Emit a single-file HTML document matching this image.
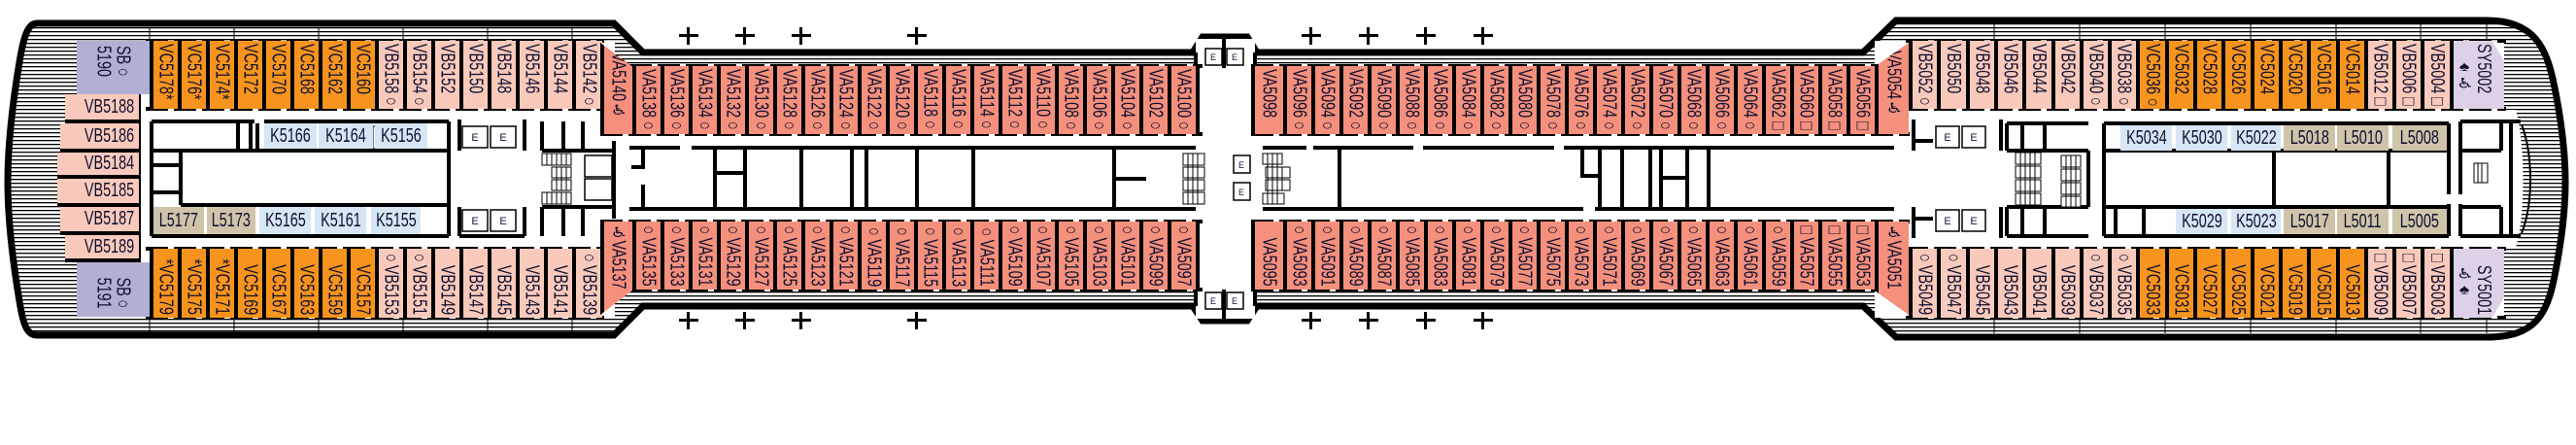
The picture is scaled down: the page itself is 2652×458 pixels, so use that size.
<!DOCTYPE html>
<html><head><meta charset="utf-8">
<style>
html,body{margin:0;padding:0;background:#fff}
body{width:2652px;height:458px;position:relative;overflow:hidden;font-family:"Liberation Sans","DejaVu Sans",sans-serif}
svg{position:absolute;left:0;top:0}
.c{position:absolute;box-sizing:border-box;border-left:4px solid #000;display:flex;justify-content:center;overflow:hidden;width:29px}
.c span{writing-mode:vertical-rl;font-size:20px;line-height:20px;white-space:nowrap;color:#101030;font-family:"Liberation Sans","DejaVu Sans",sans-serif}
.T{align-items:flex-start}.B{align-items:flex-end}
.T span{transform:scaleY(.72);transform-origin:top;margin-top:3px}
.B span{transform:scaleY(.72);transform-origin:bottom;margin-bottom:3px}
.r1{top:42px;height:70px}.r2{top:256px;height:71px}.n1{top:68px;height:70px}.n2{top:228px;height:70px}
.o{background:#f7941d}.p{background:#f9cabb}.a{background:#f4907c}.s{background:#b2afd4}.y{background:#ddd0e7}
.er{border-right:4px solid #000}
.h{position:absolute;box-sizing:border-box;display:flex;align-items:center;justify-content:flex-end;padding-right:5px;background:#f9cabb;border-bottom:4px solid #000;color:#101030}
.h span,.k span{font-size:20px;transform:scaleX(.72);white-space:nowrap}
.h span{transform-origin:right}
.k{position:absolute;box-sizing:border-box;display:flex;align-items:center;justify-content:center;color:#101030;height:26px}
.kb{background:#d6e6f5}.lt{background:#cfc3a9}
.bar{position:absolute;height:4px;background:repeating-linear-gradient(90deg,#000 0 23px,transparent 23px 29px)}
.pl{position:absolute;width:20px;height:18px}
.pl:before{content:"";position:absolute;left:0;top:7px;width:20px;height:3px;background:#000}
.pl:after{content:"";position:absolute;left:8px;top:0;width:3px;height:18px;background:#000}
</style></head><body>
<svg width="2652" height="458" viewBox="0 0 2652 458">
<defs>
<pattern id="ln" width="8" height="4" patternUnits="userSpaceOnUse"><rect width="8" height="4" fill="#fff"/><rect y="0" width="8" height="1.3" fill="#000"/></pattern>
</defs>
<path d="M38,24 L632,24 L662,54 L1228,54 L1238,38 L1284,38 L1294,54 L1918,54 L1952,21 L2560,21 C2610,21 2622,50 2630,90 C2640,140 2641,170 2641,187 C2641,204 2640,234 2630,284 C2622,324 2610,347 2560,347 L1952,347 L1918,315 L1294,315 L1284,330 L1238,330 L1228,315 L662,315 L632,345 L38,345 C28,345 24,335 20,310 C10,250 8,210 8,187 C8,164 10,124 20,64 C24,40 28,24 38,24 Z" fill="url(#ln)" stroke="#000" stroke-width="7"/>
<g stroke="#000" stroke-width="1">
<line x1="154" y1="28" x2="154" y2="42"/><line x1="241" y1="28" x2="241" y2="42"/><line x1="328" y1="28" x2="328" y2="42"/><line x1="415" y1="28" x2="415" y2="42"/><line x1="502" y1="28" x2="502" y2="42"/><line x1="589" y1="28" x2="589" y2="42"/>
<line x1="154" y1="327" x2="154" y2="342"/><line x1="241" y1="327" x2="241" y2="342"/><line x1="328" y1="327" x2="328" y2="342"/><line x1="415" y1="327" x2="415" y2="342"/><line x1="502" y1="327" x2="502" y2="342"/><line x1="589" y1="327" x2="589" y2="342"/>
<line x1="2053" y1="25" x2="2053" y2="42"/><line x1="2141" y1="25" x2="2141" y2="42"/><line x1="2229" y1="25" x2="2229" y2="42"/><line x1="2317" y1="25" x2="2317" y2="42"/><line x1="2405" y1="25" x2="2405" y2="42"/><line x1="2492" y1="25" x2="2492" y2="42"/><line x1="2560" y1="25" x2="2560" y2="42"/>
<line x1="2053" y1="327" x2="2053" y2="343"/><line x1="2141" y1="327" x2="2141" y2="343"/><line x1="2229" y1="327" x2="2229" y2="343"/><line x1="2317" y1="327" x2="2317" y2="343"/><line x1="2405" y1="327" x2="2405" y2="343"/><line x1="2492" y1="327" x2="2492" y2="343"/><line x1="2560" y1="327" x2="2560" y2="343"/>
</g>
<rect x="143" y="42" width="490" height="285" fill="#fff"/>
<rect x="618" y="68" width="1315" height="230" fill="#fff"/>
<rect x="1231" y="40" width="61" height="288" fill="#fff"/>
<rect x="1930" y="42" width="648" height="285" fill="#fff"/>
<path d="M2578,113 L2590,113 C2600,150 2600,220 2590,255 L2578,255 Z" fill="#fff"/>
<rect x="620" y="112" width="30" height="116" fill="#fff"/>
<rect x="1930" y="112" width="36" height="116" fill="#fff"/>
<rect x="140" y="95" width="5" height="177" fill="#000"/>
<g stroke="#000" stroke-width="4" fill="none">
<path d="M156,125 H262 M272,125 H462 M156,125 V243 M156,243 H462 M462,125 V243"/>
<path d="M156,155 H462 M186,155 V211 M186,211 H462 M156,170 H186 M156,198 H186"/>
<path d="M245,127 V153 M258,127 V153 M265,127 V153"/>
<path d="M473,123 V155 M540,123 V155 M473,213 V243 M540,213 V243 M473,243 H540"/>
<path d="M558,125 V155 M580,125 V155 M600,125 V155 M558,155 H632 M558,213 H632 M558,213 V243 M580,213 V243 M600,213 V243 M632,145 V225"/>
<path d="M648,152 H700 M712,152 H1231 M648,215 H1231 M662,152 V172 M662,190 V215 M736,152 V215 M736,178 H767 M767,152 V215 M825,152 V215 M877,152 V215 M892,152 V215 M944,152 V215 M1002,152 V215 M1147,152 V215 M1147,184 H1180"/>
<path d="M650,152 H662 V172 H650"/>
<path d="M1300,152 H1345 M1352,152 H1455 M1465,152 H1600 M1610,152 H1950 M1300,215 H1630 M1642,215 H1950 M1379,152 V215 M1629,152 V181 H1647 M1647,152 V215 M1670,152 V215 M1699,152 V215 M1710,152 V215 M1710,183 H1737 M1737,152 V215 M1759,152 V215"/>
<path d="M1970,123 V155 M2060,123 V155 M1970,213 V245 M2060,213 V245 M1970,145 H1990 M1970,225 H1990"/>
<path d="M2066,127 H2150 M2066,127 V155 M2082,127 V155 M2105,127 V155 M2066,155 H2150 M2066,213 H2150 M2066,213 V243 M2082,213 V243 M2105,213 V243 M2066,243 H2150 M2150,155 V213"/>
<path d="M2166,127 V243 M2166,127 H2521 M2166,155 H2521 M2166,213 H2521 M2166,243 H2521 M2521,127 V200 M2521,210 V243 M2341,155 V213 M2459,155 V213 M2178,213 V243 M2207,213 V243"/>
<path d="M2533,125 V200 M2533,210 V243 M2533,155 H2575 M2533,213 H2575 M2575,125 V155 M2575,213 V243 M2585,125 V243 M2533,125 H2595 M2533,243 H2595"/>
</g>
<path d="M2596,128 C2608,160 2608,210 2596,240" stroke="#000" stroke-width="2" fill="none"/>
<g stroke="#000" stroke-width="1.5" fill="#fff">
<rect x="476" y="130" width="26" height="22"/><rect x="505" y="130" width="26" height="22"/>
<rect x="476" y="216" width="26" height="22"/><rect x="505" y="216" width="26" height="22"/>
<rect x="1993" y="130" width="24" height="22"/><rect x="2020" y="130" width="24" height="22"/>
<rect x="1993" y="216" width="24" height="22"/><rect x="2020" y="216" width="24" height="22"/>
<rect x="1241" y="50" width="17" height="17"/><rect x="1263" y="50" width="17" height="17"/>
<rect x="1241" y="301" width="17" height="17"/><rect x="1263" y="301" width="17" height="17"/>
<rect x="1270" y="160" width="17" height="18"/><rect x="1270" y="188" width="17" height="18"/>
<rect x="602" y="160" width="28" height="22"/><rect x="602" y="184" width="28" height="22"/>
</g>
<g fill="#15163a" font-size="11" font-family="Liberation Sans" text-anchor="middle">
<text x="489" y="145">E</text><text x="518" y="145">E</text><text x="489" y="231">E</text><text x="518" y="231">E</text>
<text x="2005" y="145">E</text><text x="2032" y="145">E</text><text x="2005" y="231">E</text><text x="2032" y="231">E</text>
<text x="1249" y="62" font-size="9">E</text><text x="1271" y="62" font-size="9">E</text>
<text x="1249" y="313" font-size="9">E</text><text x="1271" y="313" font-size="9">E</text>
<text x="1278" y="173" font-size="9">E</text><text x="1278" y="201" font-size="9">E</text>
</g>
<path d="M1231,54 V68 M1292,54 V68 M1231,300 V315 M1292,300 V315 M1260,40 V70 M1260,298 V328" stroke="#000" stroke-width="4"/>
<g stroke="#000" stroke-width="1" fill="#fff">
<rect x="558" y="158" width="30" height="12"/><rect x="568" y="172" width="20" height="11"/><rect x="568" y="185" width="20" height="11"/><rect x="558" y="198" width="30" height="12"/>
<rect x="1218" y="158" width="22" height="12"/><rect x="1218" y="172" width="22" height="11"/><rect x="1218" y="185" width="22" height="11"/><rect x="1218" y="198" width="22" height="12"/>
<rect x="1300" y="158" width="20" height="11"/><rect x="1303" y="172" width="25" height="11"/><rect x="1303" y="185" width="25" height="11"/><rect x="1300" y="199" width="22" height="11"/>
<rect x="2075" y="157" width="26" height="12"/><rect x="2075" y="171" width="26" height="12"/><rect x="2075" y="185" width="26" height="12"/><rect x="2075" y="199" width="26" height="12"/>
<rect x="2122" y="160" width="20" height="12"/><rect x="2122" y="174" width="20" height="12"/><rect x="2122" y="188" width="20" height="12"/><rect x="2122" y="202" width="20" height="11"/>
<rect x="2547" y="168" width="14" height="20"/>
<rect x="376" y="130" width="14" height="23"/>
</g>
<g stroke="#000" stroke-width="1">
<path d="M563,158V170M568,158V170M573,158V170M578,158V170M583,158V170M573,172V196M578,172V196M583,172V196M563,198V210M568,198V210M573,198V210M578,198V210M583,198V210"/>
<path d="M1223,158V210M1228,158V210M1233,158V210M1305,158V210M1310,158V210M1315,158V210M1320,172V196"/>
<path d="M2080,157V211M2085,157V211M2090,157V211M2095,157V211M2127,160V213M2132,160V213M2137,160V213M2551,168V188M2555,168V188M380,130V153M384,130V153"/>
</g>
</svg>

<div class="bar" style="left:150px;top:40px;width:472px"></div>
<div class="bar" style="left:150px;top:110px;width:472px"></div>
<div class="bar" style="left:150px;top:254px;width:472px"></div>
<div class="bar" style="left:150px;top:325px;width:472px"></div>
<div class="bar" style="left:648px;top:66px;width:590px"></div>
<div class="bar" style="left:618px;top:136px;width:620px"></div>
<div class="bar" style="left:618px;top:226px;width:620px"></div>
<div class="bar" style="left:648px;top:296px;width:590px"></div>
<div class="bar" style="left:1288px;top:66px;width:645px"></div>
<div class="bar" style="left:1288px;top:136px;width:678px"></div>
<div class="bar" style="left:1288px;top:226px;width:678px"></div>
<div class="bar" style="left:1288px;top:296px;width:645px"></div>
<div class="bar" style="left:1962px;top:40px;width:618px"></div>
<div class="bar" style="left:1962px;top:110px;width:618px"></div>
<div class="bar" style="left:1962px;top:254px;width:618px"></div>
<div class="bar" style="left:1962px;top:325px;width:618px"></div>

<div class="c s T" style="left:79px;top:42px;height:55px;width:75px;border-left:none;align-items:center"><span style="line-height:20px">SB○<br>5190</span></div>
<div class="c s B" style="left:79px;top:270px;height:56px;width:75px;border-left:none;align-items:center"><span style="line-height:20px">SB○<br>5191</span></div>

<div class="h" style="left:67px;top:97px;width:76px;height:30px"><span>VB5188</span></div>
<div class="h" style="left:62px;top:127px;width:81px;height:30px"><span>VB5186</span></div>
<div class="h" style="left:59px;top:157px;width:84px;height:27px"><span>VB5184</span></div>
<div class="h" style="left:59px;top:184px;width:84px;height:29px"><span>VB5185</span></div>
<div class="h" style="left:62px;top:213px;width:81px;height:29px"><span>VB5187</span></div>
<div class="h" style="left:67px;top:242px;width:76px;height:28px;border-bottom:4px solid #000"><span>VB5189</span></div>

<div class="c o T r1" style="left:154px"><span>VC5178*</span></div>
<div class="c o T r1" style="left:183px"><span>VC5176*</span></div>
<div class="c o T r1" style="left:212px"><span>VC5174*</span></div>
<div class="c o T r1" style="left:241px"><span>VC5172</span></div>
<div class="c o T r1" style="left:270px"><span>VC5170</span></div>
<div class="c o T r1" style="left:299px"><span>VC5168</span></div>
<div class="c o T r1" style="left:328px"><span>VC5162</span></div>
<div class="c o T r1" style="left:357px"><span>VC5160</span></div>
<div class="c p T r1" style="left:386px"><span>VB5158○</span></div>
<div class="c p T r1" style="left:415px"><span>VB5154○</span></div>
<div class="c p T r1" style="left:444px"><span>VB5152</span></div>
<div class="c p T r1" style="left:473px"><span>VB5150</span></div>
<div class="c p T r1" style="left:502px"><span>VB5148</span></div>
<div class="c p T r1" style="left:531px"><span>VB5146</span></div>
<div class="c p T r1" style="left:560px"><span>VB5144</span></div>
<div class="c p T r1" style="left:589px;width:31px"><span>VB5142○</span></div>

<div class="c o B r2" style="left:154px"><span>*VC5179</span></div>
<div class="c o B r2" style="left:183px"><span>*VC5175</span></div>
<div class="c o B r2" style="left:212px"><span>*VC5171</span></div>
<div class="c o B r2" style="left:241px"><span>VC5169</span></div>
<div class="c o B r2" style="left:270px"><span>VC5167</span></div>
<div class="c o B r2" style="left:299px"><span>VC5163</span></div>
<div class="c o B r2" style="left:328px"><span>VC5159</span></div>
<div class="c o B r2" style="left:357px"><span>VC5157</span></div>
<div class="c p B r2" style="left:386px"><span>○VB5153</span></div>
<div class="c p B r2" style="left:415px"><span>○VB5151</span></div>
<div class="c p B r2" style="left:444px"><span>VB5149</span></div>
<div class="c p B r2" style="left:473px"><span>VB5147</span></div>
<div class="c p B r2" style="left:502px"><span>VB5145</span></div>
<div class="c p B r2" style="left:531px"><span>VB5143</span></div>
<div class="c p B r2" style="left:560px"><span>VB5141</span></div>
<div class="c p B r2" style="left:589px;width:31px"><span>○VB5139</span></div>

<div class="c a T" style="left:618px;top:44px;height:94px;width:33px;clip-path:polygon(0 0,100% 26%,100% 100%,0 100%)"><span style="margin-top:10px">VA5140♿</span></div>
<div class="c a T n1" style="left:651px"><span>VA5138○</span></div>
<div class="c a T n1" style="left:680px"><span>VA5136○</span></div>
<div class="c a T n1" style="left:709px"><span>VA5134○</span></div>
<div class="c a T n1" style="left:738px"><span>VA5132○</span></div>
<div class="c a T n1" style="left:767px"><span>VA5130○</span></div>
<div class="c a T n1" style="left:796px"><span>VA5128○</span></div>
<div class="c a T n1" style="left:825px"><span>VA5126○</span></div>
<div class="c a T n1" style="left:854px"><span>VA5124○</span></div>
<div class="c a T n1" style="left:883px"><span>VA5122○</span></div>
<div class="c a T n1" style="left:912px"><span>VA5120○</span></div>
<div class="c a T n1" style="left:941px"><span>VA5118○</span></div>
<div class="c a T n1" style="left:970px"><span>VA5116○</span></div>
<div class="c a T n1" style="left:999px"><span>VA5114○</span></div>
<div class="c a T n1" style="left:1028px"><span>VA5112○</span></div>
<div class="c a T n1" style="left:1057px"><span>VA5110○</span></div>
<div class="c a T n1" style="left:1086px"><span>VA5108○</span></div>
<div class="c a T n1" style="left:1115px"><span>VA5106○</span></div>
<div class="c a T n1" style="left:1144px"><span>VA5104○</span></div>
<div class="c a T n1" style="left:1173px"><span>VA5102○</span></div>
<div class="c a T n1 er" style="left:1202px;width:33px"><span>VA5100○</span></div>

<div class="c a T n1" style="left:1288px;width:33px"><span>VA5098</span></div>
<div class="c a T n1" style="left:1321px"><span>VA5096○</span></div>
<div class="c a T n1" style="left:1350px"><span>VA5094○</span></div>
<div class="c a T n1" style="left:1379px"><span>VA5092○</span></div>
<div class="c a T n1" style="left:1408px"><span>VA5090○</span></div>
<div class="c a T n1" style="left:1437px"><span>VA5088○</span></div>
<div class="c a T n1" style="left:1466px"><span>VA5086○</span></div>
<div class="c a T n1" style="left:1495px"><span>VA5084○</span></div>
<div class="c a T n1" style="left:1524px"><span>VA5082○</span></div>
<div class="c a T n1" style="left:1553px"><span>VA5080○</span></div>
<div class="c a T n1" style="left:1582px"><span>VA5078○</span></div>
<div class="c a T n1" style="left:1611px"><span>VA5076○</span></div>
<div class="c a T n1" style="left:1640px"><span>VA5074○</span></div>
<div class="c a T n1" style="left:1669px"><span>VA5072○</span></div>
<div class="c a T n1" style="left:1698px"><span>VA5070○</span></div>
<div class="c a T n1" style="left:1727px"><span>VA5068○</span></div>
<div class="c a T n1" style="left:1756px"><span>VA5066○</span></div>
<div class="c a T n1" style="left:1785px"><span>VA5064○</span></div>
<div class="c a T n1" style="left:1814px"><span>VA5062□</span></div>
<div class="c a T n1" style="left:1843px"><span>VA5060□</span></div>
<div class="c a T n1" style="left:1872px"><span>VA5058□</span></div>
<div class="c a T n1" style="left:1901px"><span>VA5056□</span></div>
<div class="c a T" style="left:1930px;top:44px;height:94px;width:35px;clip-path:polygon(0 26%,100% 0,100% 100%,0 100%)"><span style="margin-top:8px">VA5054♿</span></div>

<div class="c a B" style="left:618px;top:228px;height:96px;width:33px;clip-path:polygon(0 0,100% 0,100% 74%,0 100%)"><span style="margin-bottom:26px">♿VA5137</span></div>
<div class="c a B n2" style="left:651px"><span>○VA5135</span></div>
<div class="c a B n2" style="left:680px"><span>○VA5133</span></div>
<div class="c a B n2" style="left:709px"><span>○VA5131</span></div>
<div class="c a B n2" style="left:738px"><span>○VA5129</span></div>
<div class="c a B n2" style="left:767px"><span>○VA5127</span></div>
<div class="c a B n2" style="left:796px"><span>○VA5125</span></div>
<div class="c a B n2" style="left:825px"><span>○VA5123</span></div>
<div class="c a B n2" style="left:854px"><span>○VA5121</span></div>
<div class="c a B n2" style="left:883px"><span>○VA5119</span></div>
<div class="c a B n2" style="left:912px"><span>○VA5117</span></div>
<div class="c a B n2" style="left:941px"><span>○VA5115</span></div>
<div class="c a B n2" style="left:970px"><span>○VA5113</span></div>
<div class="c a B n2" style="left:999px"><span>○VA5111</span></div>
<div class="c a B n2" style="left:1028px"><span>○VA5109</span></div>
<div class="c a B n2" style="left:1057px"><span>○VA5107</span></div>
<div class="c a B n2" style="left:1086px"><span>○VA5105</span></div>
<div class="c a B n2" style="left:1115px"><span>○VA5103</span></div>
<div class="c a B n2" style="left:1144px"><span>○VA5101</span></div>
<div class="c a B n2" style="left:1173px"><span>○VA5099</span></div>
<div class="c a B n2 er" style="left:1202px;width:33px"><span>○VA5097</span></div>

<div class="c a B n2" style="left:1288px;width:33px"><span>VA5095</span></div>
<div class="c a B n2" style="left:1321px"><span>○VA5093</span></div>
<div class="c a B n2" style="left:1350px"><span>○VA5091</span></div>
<div class="c a B n2" style="left:1379px"><span>○VA5089</span></div>
<div class="c a B n2" style="left:1408px"><span>○VA5087</span></div>
<div class="c a B n2" style="left:1437px"><span>○VA5085</span></div>
<div class="c a B n2" style="left:1466px"><span>○VA5083</span></div>
<div class="c a B n2" style="left:1495px"><span>○VA5081</span></div>
<div class="c a B n2" style="left:1524px"><span>○VA5079</span></div>
<div class="c a B n2" style="left:1553px"><span>○VA5077</span></div>
<div class="c a B n2" style="left:1582px"><span>○VA5075</span></div>
<div class="c a B n2" style="left:1611px"><span>○VA5073</span></div>
<div class="c a B n2" style="left:1640px"><span>○VA5071</span></div>
<div class="c a B n2" style="left:1669px"><span>○VA5069</span></div>
<div class="c a B n2" style="left:1698px"><span>○VA5067</span></div>
<div class="c a B n2" style="left:1727px"><span>○VA5065</span></div>
<div class="c a B n2" style="left:1756px"><span>○VA5063</span></div>
<div class="c a B n2" style="left:1785px"><span>○VA5061</span></div>
<div class="c a B n2" style="left:1814px"><span>○VA5059</span></div>
<div class="c a B n2" style="left:1843px"><span>□VA5057</span></div>
<div class="c a B n2" style="left:1872px"><span>□VA5055</span></div>
<div class="c a B n2" style="left:1901px"><span>□VA5053</span></div>
<div class="c a B" style="left:1930px;top:228px;height:96px;width:35px;clip-path:polygon(0 0,100% 0,100% 100%,0 74%)"><span style="margin-bottom:26px">♿VA5051</span></div>

<div class="c p T r1" style="left:1965px"><span>VB5052○</span></div>
<div class="c p T r1" style="left:1994px;width:30px"><span>VB5050</span></div>
<div class="c p T r1" style="left:2024px"><span>VB5048</span></div>
<div class="c p T r1" style="left:2053px"><span>VB5046</span></div>
<div class="c p T r1" style="left:2082px;width:30px"><span>VB5044</span></div>
<div class="c p T r1" style="left:2112px"><span>VB5042</span></div>
<div class="c p T r1" style="left:2141px"><span>VB5040○</span></div>
<div class="c p T r1" style="left:2170px"><span>VB5038○</span></div>
<div class="c o T r1" style="left:2199px;width:30px"><span>VC5036○</span></div>
<div class="c o T r1" style="left:2229px"><span>VC5032</span></div>
<div class="c o T r1" style="left:2258px"><span>VC5028</span></div>
<div class="c o T r1" style="left:2287px;width:30px"><span>VC5026</span></div>
<div class="c o T r1" style="left:2317px"><span>VC5024</span></div>
<div class="c o T r1" style="left:2346px"><span>VC5020</span></div>
<div class="c o T r1" style="left:2375px;width:30px"><span>VC5016</span></div>
<div class="c o T r1" style="left:2405px"><span>VC5014</span></div>
<div class="c p T r1" style="left:2434px"><span>VB5012□</span></div>
<div class="c p T r1" style="left:2463px"><span>VB5006□</span></div>
<div class="c p T r1" style="left:2492px;width:30px"><span>VB5004□</span></div>
<div class="c y T r1" style="left:2522px;width:56px;clip-path:polygon(0 0,78% 0,100% 30%,100% 100%,0 100%)"><span style="margin-left:-10px">SY5002<br>&nbsp;&nbsp;&nbsp;&nbsp;♠♿</span></div>

<div class="c p B r2" style="left:1965px"><span>○VB5049</span></div>
<div class="c p B r2" style="left:1994px;width:30px"><span>○VB5047</span></div>
<div class="c p B r2" style="left:2024px"><span>VB5045</span></div>
<div class="c p B r2" style="left:2053px"><span>VB5043</span></div>
<div class="c p B r2" style="left:2082px;width:30px"><span>VB5041</span></div>
<div class="c p B r2" style="left:2112px"><span>VB5039</span></div>
<div class="c p B r2" style="left:2141px"><span>○VB5037</span></div>
<div class="c p B r2" style="left:2170px"><span>○VB5035</span></div>
<div class="c o B r2" style="left:2199px;width:30px"><span>VC5033</span></div>
<div class="c o B r2" style="left:2229px"><span>VC5031</span></div>
<div class="c o B r2" style="left:2258px"><span>VC5027</span></div>
<div class="c o B r2" style="left:2287px;width:30px"><span>VC5025</span></div>
<div class="c o B r2" style="left:2317px"><span>VC5021</span></div>
<div class="c o B r2" style="left:2346px"><span>VC5019</span></div>
<div class="c o B r2" style="left:2375px;width:30px"><span>VC5015</span></div>
<div class="c o B r2" style="left:2405px"><span>VC5013</span></div>
<div class="c p B r2" style="left:2434px"><span>□VB5009</span></div>
<div class="c p B r2" style="left:2463px"><span>□VB5007</span></div>
<div class="c p B r2" style="left:2492px;width:30px"><span>□VB5003</span></div>
<div class="c y B r2" style="left:2522px;width:56px;clip-path:polygon(0 0,100% 0,100% 70%,78% 100%,0 100%)"><span style="margin-left:-10px">SY5001<br>♿♠&nbsp;&nbsp;&nbsp;&nbsp;</span></div>

<div class="k kb" style="left:272px;top:127px;width:54px"><span>K5166</span></div>
<div class="k kb" style="left:328px;top:127px;width:56px"><span>K5164</span></div>
<div class="k kb" style="left:386px;top:127px;width:54px"><span>K5156</span></div>
<div class="k lt" style="left:158px;top:213px;width:52px;height:28px"><span>L5177</span></div>
<div class="k lt" style="left:213px;top:213px;width:50px;height:28px"><span>L5173</span></div>
<div class="k kb" style="left:267px;top:213px;width:53px;height:28px"><span>K5165</span></div>
<div class="k kb" style="left:324px;top:213px;width:53px;height:28px"><span>K5161</span></div>
<div class="k kb" style="left:382px;top:213px;width:51px;height:28px"><span>K5155</span></div>
<div class="k kb" style="left:2183px;top:129px;width:53px"><span>K5034</span></div>
<div class="k kb" style="left:2240px;top:129px;width:53px"><span>K5030</span></div>
<div class="k kb" style="left:2297px;top:129px;width:51px"><span>K5022</span></div>
<div class="k lt" style="left:2351px;top:129px;width:53px"><span>L5018</span></div>
<div class="k lt" style="left:2406px;top:129px;width:53px"><span>L5010</span></div>
<div class="k lt" style="left:2463px;top:129px;width:56px"><span>L5008</span></div>
<div class="k kb" style="left:2240px;top:215px;width:53px"><span>K5029</span></div>
<div class="k kb" style="left:2297px;top:215px;width:51px"><span>K5023</span></div>
<div class="k lt" style="left:2351px;top:215px;width:53px"><span>L5017</span></div>
<div class="k lt" style="left:2406px;top:215px;width:53px"><span>L5011</span></div>
<div class="k lt" style="left:2463px;top:215px;width:56px"><span>L5005</span></div>

<div class="pl" style="left:699px;top:28px"></div><div class="pl" style="left:757px;top:28px"></div><div class="pl" style="left:815px;top:28px"></div><div class="pl" style="left:934px;top:28px"></div>
<div class="pl" style="left:1340px;top:28px"></div><div class="pl" style="left:1399px;top:28px"></div><div class="pl" style="left:1458px;top:28px"></div><div class="pl" style="left:1517px;top:28px"></div>
<div class="pl" style="left:699px;top:321px"></div><div class="pl" style="left:757px;top:321px"></div><div class="pl" style="left:815px;top:321px"></div><div class="pl" style="left:934px;top:321px"></div>
<div class="pl" style="left:1340px;top:321px"></div><div class="pl" style="left:1399px;top:321px"></div><div class="pl" style="left:1458px;top:321px"></div><div class="pl" style="left:1517px;top:321px"></div>
</body></html>
